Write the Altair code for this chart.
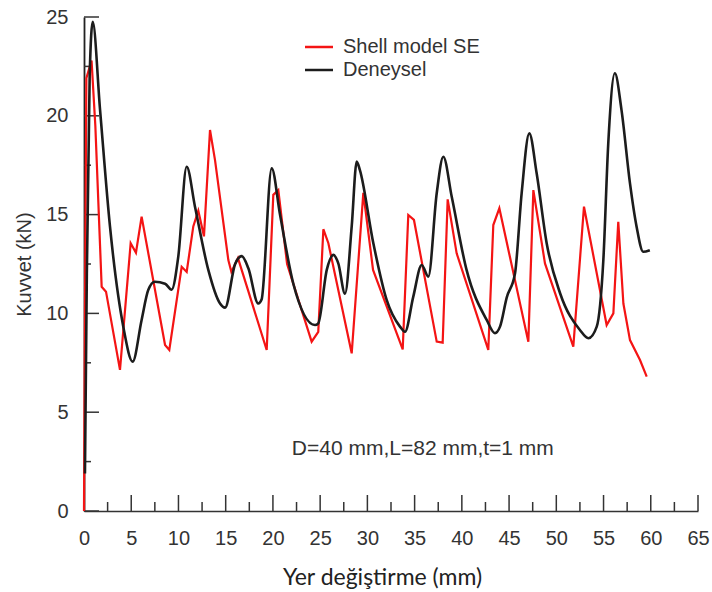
import altair as alt
import pandas as pd

# Shell model SE (red) - piecewise-linear simulation curve
shell_x = [0, 0.1, 0.25, 0.8, 1.2, 1.87, 2.33, 3.81, 4.94, 5.5, 6.1, 8.58, 9.03, 10.34, 10.87,
           11.57, 12.1, 12.7, 13.34, 13.87, 15.28, 15.6, 16.3, 19.34, 20.04, 20.57, 21.5, 24.1,
           24.8, 25.34, 25.87, 28.34, 29.57, 30.6, 33.74, 34.33, 34.93, 37.34, 37.97, 38.5,
           39.45, 42.8, 43.33, 43.97, 47.04, 47.57, 48.8, 51.8, 52.93, 55.33, 56.04, 56.56,
           57.1, 57.8, 58.86, 59.57]
shell_y = [0, 10, 21.9, 22.8, 19.5, 11.35, 11.1, 7.14, 13.55, 13.07, 14.9, 8.4, 8.15, 12.36, 12.1,
           14.4, 15.2, 13.9, 19.28, 17.76, 12.7, 12.1, 12.8, 8.15, 16.0, 16.24, 12.5, 8.57,
           9.07, 14.26, 13.55, 7.98, 16.1, 12.2, 8.18, 14.98, 14.73, 8.57, 8.52, 15.77,
           13.04, 8.15, 14.47, 15.32, 8.57, 16.24, 12.53, 8.32, 15.4, 9.41, 10.0, 14.64,
           10.5, 8.65, 7.64, 6.8]

# Deneysel (black) - experimental curve
exp_x = [0.1, 0.3, 0.6, 0.92, 1.7, 2.75, 4.16, 5.15, 6.1, 6.8, 7.5, 8.58, 9.28, 9.98, 10.87,
         11.75, 13.16, 14.4, 14.93, 16.0, 16.7, 17.4, 18.45, 18.8, 19.87, 20.75, 22.16, 24.45,
         24.8, 25.7, 26.4, 26.92, 27.63, 28.34, 28.87, 29.2, 30.63, 32.04, 33.45, 33.98, 34.86,
         35.75, 36.45, 37.34, 38.04, 38.93, 40.5, 42.63, 43.5, 44.04, 44.75, 45.63, 46.33,
         47.14, 47.92, 48.98, 50.4, 52.5, 53.4, 54.28, 54.98, 55.5, 56.2, 56.9, 57.8, 58.5,
         59.2, 59.9]
exp_y = [1.9, 12, 22, 24.76, 20.3, 14.4, 9.33, 7.56, 9.67, 11.18, 11.6, 11.5, 11.2, 12.87, 17.42,
         15.4, 12.2, 10.5, 10.29, 12.5, 12.9, 12.28, 10.5, 10.7, 17.34, 15.0, 11.5, 9.41,
         9.5, 12.2, 12.96, 12.53, 11.0, 14.4, 17.68, 17.26, 13.55, 10.68, 9.33, 9.07, 10.85,
         12.45, 11.86, 16.08, 17.93, 15.9, 12.2, 9.67, 9.0, 9.33, 10.8, 12.03, 16.08,
         19.11, 17.09, 13.55, 11.02, 9.16, 8.74, 9.33, 12.7, 18.6, 22.15, 20.3, 16.58, 14.39,
         13.12, 13.2]

series_names = ["Shell model SE", "Deneysel"]
series_colors = ["#f41414", "#1c1c1c"]

x_major_ticks = [0, 5, 10, 15, 20, 25, 30, 35, 40, 45, 50, 55, 60, 65]
x_minor_ticks = [2.5, 7.5, 12.5, 17.5, 22.5, 27.5, 32.5, 37.5, 42.5, 47.5, 52.5, 57.5, 62.5]
y_major_ticks = [0, 5, 10, 15, 20, 25]
y_minor_ticks = [2.5, 7.5, 12.5, 17.5, 22.5]

annotation = "D=40 mm,L=82 mm,t=1 mm"

shell_df = pd.DataFrame({"x": shell_x, "y": shell_y, "series": series_names[0],
                         "i": range(len(shell_x))})
exp_df = pd.DataFrame({"x": exp_x, "y": exp_y, "series": series_names[1],
                       "i": range(len(exp_x))})

W, H = 614, 494
xscale = alt.Scale(domain=[0, 65], nice=False, zero=False)
yscale = alt.Scale(domain=[0, 25], nice=False, zero=False)
cscale = alt.Scale(domain=series_names, range=series_colors)

x_axis = alt.Axis(values=x_major_ticks, ticks=False, grid=False, domainColor="#333",
                  domainWidth=1.6, labelFont="Liberation Sans", labelFontSize=20,
                  labelColor="#333", labelPadding=17, labelFlush=False, labelOverlap=False,
                  title="Yer değiştirme (mm)", titleFont="Lato", titleFontSize=23,
                  titleFontWeight="normal", titleColor="#222", titleX=298, titleY=66,
                  titleBaseline="middle", titleAlign="center")
y_axis = alt.Axis(values=y_major_ticks, ticks=False, grid=False, domainColor="#222",
                  domainWidth=1.8, labelFont="Liberation Sans", labelFontSize=20,
                  labelColor="#333", labelPadding=16, labelFlush=False, labelOverlap=False,
                  title="Kuvvet (kN)", titleFont="Liberation Sans", titleFontSize=20,
                  titleFontWeight="normal", titleColor="#333", titleX=-60, titleY=H / 2,
                  titleAngle=-90, titleBaseline="middle", titleAlign="center")

X = alt.X("x:Q", scale=xscale, axis=x_axis)
Y = alt.Y("y:Q", scale=yscale, axis=y_axis)

red = alt.Chart(shell_df).mark_line(strokeWidth=2.2).encode(
    x=X, y=Y,
    color=alt.Color("series:N", scale=cscale, legend=None),
    order="i:Q",
)
black = alt.Chart(exp_df).mark_line(strokeWidth=2.6, interpolate="monotone").encode(
    x=X, y=Y,
    color=alt.Color("series:N", scale=cscale, legend=None),
    order="i:Q",
)

tick_style = dict(color="#333", strokeWidth=1.5)
xmaj = alt.Chart(pd.DataFrame({"x": x_major_ticks})).mark_rule(**tick_style).encode(
    x=X, y=alt.value(H), y2=alt.value(H - 16))
xmin = alt.Chart(pd.DataFrame({"x": x_minor_ticks})).mark_rule(**tick_style).encode(
    x=X, y=alt.value(H), y2=alt.value(H - 9))
ymaj = alt.Chart(pd.DataFrame({"y": y_major_ticks})).mark_rule(**tick_style).encode(
    y=Y, x=alt.value(0), x2=alt.value(15))
ymin = alt.Chart(pd.DataFrame({"y": y_minor_ticks})).mark_rule(**tick_style).encode(
    y=Y, x=alt.value(0), x2=alt.value(7))

# manual legend (line swatch + label per series), pixel positions inside plot area
legend_layers = []
for k, (name, col) in enumerate(zip(series_names, series_colors)):
    row_y = 30 + 23 * k
    d = pd.DataFrame({"series": [name]})
    legend_layers.append(
        alt.Chart(d).mark_rule(strokeWidth=2.5, color=col).encode(
            x=alt.value(221), x2=alt.value(249), y=alt.value(row_y))
    )
    legend_layers.append(
        alt.Chart(d).mark_text(align="left", baseline="middle", fontSize=20,
                               font="Liberation Sans", color="#333").encode(
            x=alt.value(259), y=alt.value(row_y), text="series:N")
    )

note = alt.Chart(pd.DataFrame({"t": [annotation]})).mark_text(
    align="left", baseline="middle", fontSize=21, font="Liberation Sans", color="#333"
).encode(x=alt.datum(22.0), y=alt.datum(3.14), text="t:N")

chart = alt.layer(xmaj, xmin, ymaj, ymin, red, black, note, *legend_layers).properties(
    width=W, height=H, autosize="none",
    padding={"left": 84, "top": 17, "right": 14, "bottom": 81},
    background="white",
).configure_view(stroke=None)

chart.save("out.html", embed_options={"renderer": "svg", "actions": False})
